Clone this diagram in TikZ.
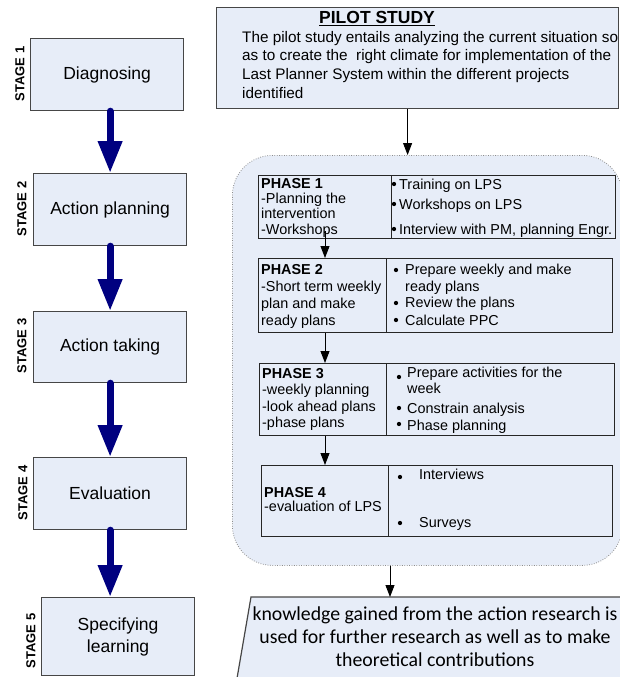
\documentclass[tikz,border=0pt]{standalone}
\usepackage{fontspec}
\setmainfont{Liberation Sans}
\newfontfamily\calib{Carlito}
\usetikzlibrary{arrows.meta}
\definecolor{boxfill}{RGB}{231,237,248}
\definecolor{navyblue}{RGB}{0,0,128}
\definecolor{boxline}{RGB}{70,70,70}
\definecolor{dotline}{RGB}{140,140,140}
\begin{document}
\begin{tikzpicture}[x=1pt,y=-1pt,
 stagebox/.style={draw=boxline, line width=1.2pt, fill=boxfill, anchor=north west, inner sep=0pt, minimum width=153pt, align=center, font=\fontsize{17.5}{22}\selectfont},
 stagelabel/.style={rotate=90, font=\fontsize{13}{15}\selectfont\bfseries, inner sep=0pt},
 bigarrow/.style={draw=navyblue, line width=7pt, line cap=round, -{Triangle[width=23pt,length=32pt]}},
 thinarrow/.style={draw=black, line width=0.9pt, -{Triangle[width=9pt,length=12pt]}},
 phasebox/.style={draw=black!85, line width=1pt, anchor=north west, inner sep=0pt},
 ptxt/.style={anchor=base west, inner sep=0pt, font=\fontsize{14.4}{16}\selectfont},
 ptitle/.style={anchor=base west, inner sep=0pt, font=\fontsize{14.4}{16}\selectfont\bfseries},
 pilottxt/.style={anchor=base west, inner sep=0pt, font=\fontsize{15.3}{18}\selectfont},
 fintxt/.style={anchor=base, inner sep=0pt, font=\calib\fontsize{19.8}{23}\selectfont},
 bul/.style={circle, fill=black, inner sep=0pt, minimum size=4.3pt}]
\useasboundingbox (0,0) rectangle (619,677);

% stage boxes
\node[stagebox, minimum height=72pt] (s1) at (30,38) {Diagnosing};
\node[stagebox, minimum height=72pt] (s2) at (33,173) {Action planning};
\node[stagebox, minimum height=71pt] (s3) at (33,311) {Action taking};
\node[stagebox, minimum height=72pt] (s4) at (33,457) {Evaluation};
\node[stagebox, minimum height=78pt] (s5) at (41,597) {Specifying\\learning};

\node[stagelabel] (l1) at (20,74) {STAGE 1};
\node[stagelabel] (l2) at (22,209) {STAGE 2};
\node[stagelabel] (l3) at (22,346) {STAGE 3};
\node[stagelabel] (l4) at (23,493) {STAGE 4};
\node[stagelabel] (l5) at (31,641) {STAGE 5};

\draw[bigarrow] (s1.south -| s2.north) -- (s2.north);
\draw[bigarrow] (s2.south) -- (s2.south |- s3.north);
\draw[bigarrow] (s3.south) -- (s3.south |- s4.north);
\draw[bigarrow] (s4.south) -- (s4.south |- s5.north);

% pilot study
\node[draw=boxline, line width=1.2pt, fill=boxfill, anchor=north west, inner sep=0pt, minimum width=402pt, minimum height=101pt] (pilot) at (216,7) {};
\node[anchor=base, inner sep=0pt, font=\fontsize{17.5}{20}\selectfont\bfseries] (ptl) at (377,24) {\underline{PILOT STUDY}};
\node[pilottxt] (pb1) at (242,42.5) {The pilot study entails analyzing the current situation so};
\node[pilottxt] (pb2) at (242,61) {as to create the\ \ right climate for implementation of the};
\node[pilottxt] (pb3) at (242,79.5) {Last Planner System within the different projects};
\node[pilottxt] (pb4) at (242,98) {identified};

% region
\node[draw=dotline, line width=0.8pt, dash pattern=on 0.8pt off 1.6pt, fill=boxfill, rounded corners=40pt, anchor=north west, minimum width=390pt, minimum height=410pt, inner sep=0pt] (region) at (232,155) {};

\draw[thinarrow] ([xshift=-10pt]pilot.south) -- ([xshift=-10pt]pilot.south |- region.north);

% phase boxes
\node[phasebox, minimum width=133pt, minimum height=63pt] (p1l) at (258,175) {};
\node[phasebox, minimum width=224pt, minimum height=63pt] (p1r) at (391,175) {};
\node[phasebox, minimum width=128pt, minimum height=74pt] (p2l) at (258,258) {};
\node[phasebox, minimum width=226pt, minimum height=74pt] (p2r) at (386,258) {};
\node[phasebox, minimum width=127pt, minimum height=72pt] (p3l) at (259,363) {};
\node[phasebox, minimum width=228pt, minimum height=72pt] (p3r) at (386,363) {};
\node[phasebox, minimum width=127pt, minimum height=71pt] (p4l) at (261,465) {};
\node[phasebox, minimum width=224pt, minimum height=71pt] (p4r) at (388,465) {};

% phase 1
\node[ptitle] (a1) at (261,188) {PHASE 1};
\node[ptxt] (a2) at (261,203) {-Planning the};
\node[ptxt] (a3) at (261,218) {intervention};
\node[ptxt] (a4) at (261,234) {-Workshops};
\node[bul] (b1) at (394,184) {};
\node[ptxt] (a5) at (399,189) {Training on LPS};
\node[bul] (b2) at (394,204) {};
\node[ptxt] (a6) at (399,209) {Workshops on LPS};
\node[bul] (b3) at (394,229) {};
\node[ptxt] (a7) at (399,234) {Interview with PM, planning Engr.};

% phase 2
\node[ptitle] (c1) at (261,274) {PHASE 2};
\node[ptxt] (c2) at (261,291) {-Short term weekly};
\node[ptxt] (c3) at (261,308) {plan and make};
\node[ptxt] (c4) at (261,325) {ready plans};
\node[bul] (b4) at (396,270) {};
\node[ptxt] (c5) at (405,274) {Prepare weekly and make};
\node[ptxt] (c6) at (405,291) {ready plans};
\node[bul] (b5) at (396,303) {};
\node[ptxt] (c7) at (405,307) {Review the plans};
\node[bul] (b6) at (396,320) {};
\node[ptxt] (c8) at (405,325) {Calculate PPC};

% phase 3
\node[ptitle] (d1) at (262,378) {PHASE 3};
\node[ptxt] (d2) at (262,394.5) {-weekly planning};
\node[ptxt] (d3) at (262,411) {-look ahead plans};
\node[ptxt] (d4) at (262,427.5) {-phase plans};
\node[bul] (b7) at (399,377) {};
\node[ptxt] (d5) at (407,377) {Prepare activities for the};
\node[ptxt] (d6) at (407,393) {week};
\node[bul] (b8) at (399,408) {};
\node[ptxt] (d7) at (407,413) {Constrain analysis};
\node[bul] (b9) at (399,424) {};
\node[ptxt] (d8) at (407,430) {Phase planning};

% phase 4
\node[ptitle] (e1) at (264,497) {PHASE 4};
\node[ptxt] (e2) at (264,511) {-evaluation of LPS};
\node[bul] (b10) at (400,477) {};
\node[ptxt] (e3) at (419,479) {Interviews};
\node[bul] (b11) at (400,523) {};
\node[ptxt] (e4) at (419,527) {Surveys};

\draw[thinarrow] ([yshift=8pt]p1l.south -| 325,0) -- (325,0 |- p2l.north);
\draw[thinarrow] (p2l.south -| 325,0) -- (325,0 |- p3l.north);
\draw[thinarrow] (p3l.south -| 325,0) -- (325,0 |- p4l.north);

% final box
\coordinate (fa) at (390,597);
\coordinate (fb) at (251,597);
\coordinate (fc) at (650,597);
\coordinate (fd) at (650,690);
\coordinate (fe) at (235,690);
\draw[draw=boxline, line width=1.2pt, fill=boxfill] (fb) -- (fc) -- (fd) -- (fe) -- cycle;
\node[fintxt] (f1) at (435,620) {knowledge gained from the action research is};
\node[fintxt] (f2) at (435,643) {used for further research as well as to make};
\node[fintxt] (f3) at (435,666) {theoretical contributions};

\draw[thinarrow] (region.south -| fa) -- (fa);
\end{tikzpicture}
\end{document}
